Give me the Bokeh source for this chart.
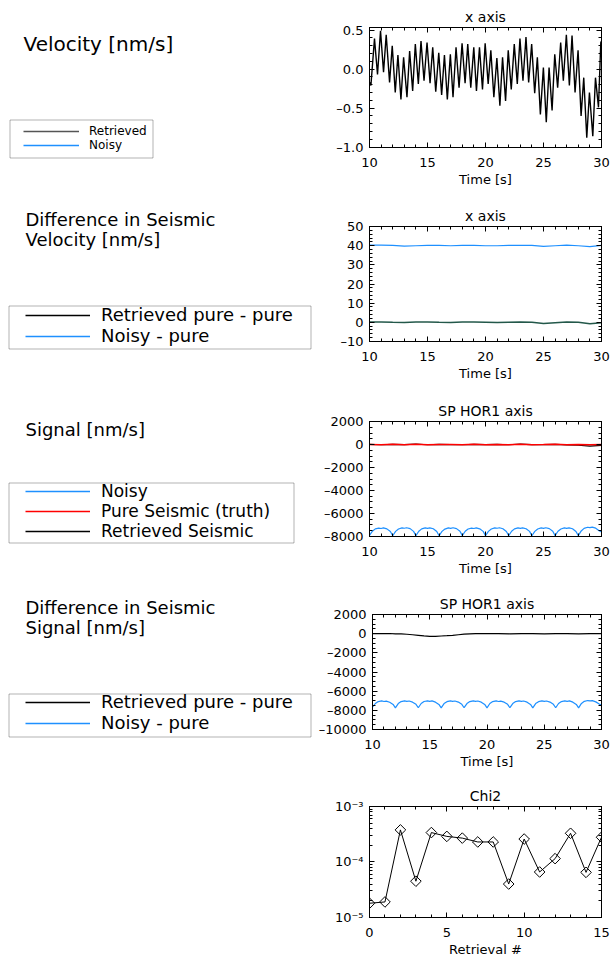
from bokeh.plotting import figure
from bokeh.layouts import row, column
from bokeh.models import (Range1d, SingleIntervalTicker, FixedTicker, LinearAxis, LogAxis,
                          CustomJSTickFormatter, Label, BoxAnnotation, Spacer)
from bokeh.embed import file_html
from bokeh.resources import INLINE

FONT = "DejaVu Sans"
BLUE = "#1E90FF"
NAN = float("nan")

# ---------------- data ----------------
vel_t = [10.00, 10.12, 10.43, 10.69, 10.95, 11.21, 11.44, 11.73, 11.96, 12.22,
         12.45, 12.71, 12.94, 13.23, 13.46, 13.72, 13.95, 14.21, 14.44, 14.70,
         14.96, 15.22, 15.45, 15.71, 15.97, 16.22, 16.46, 16.71, 16.97, 17.20,
         17.46, 17.72, 17.98, 18.24, 18.47, 18.73, 18.99, 19.22, 19.48, 19.74,
         19.97, 20.23, 20.46, 20.72, 20.98, 21.24, 21.47, 21.73, 21.96, 22.22,
         22.48, 22.74, 22.97, 23.23, 23.49, 23.72, 23.98, 24.24, 24.47, 24.73,
         24.99, 25.24, 25.48, 25.74, 25.97, 26.22, 26.48, 26.71, 26.97, 27.23,
         27.46, 27.72, 27.98, 28.24, 28.47, 28.73, 28.96, 29.25, 29.48, 29.74,
         29.94, 30.00]
vel_retrieved = [-0.17, -0.21, 0.39, -0.07, 0.49, -0.04, 0.44, -0.17, 0.30, -0.30,
                 0.18, -0.39, 0.15, -0.36, 0.23, -0.28, 0.32, -0.19, 0.36, -0.15,
                 0.34, -0.18, 0.28, -0.29, 0.21, -0.33, 0.18, -0.39, 0.19, -0.36,
                 0.28, -0.24, 0.33, -0.18, 0.32, -0.24, 0.28, -0.28, 0.28, -0.26,
                 0.33, -0.19, 0.24, -0.36, 0.14, -0.47, 0.15, -0.41, 0.24, -0.26,
                 0.32, -0.19, 0.39, -0.15, 0.41, -0.17, 0.32, -0.31, 0.15, -0.58,
                 0.02, -0.68, 0.02, -0.53, 0.19, -0.24, 0.34, -0.15, 0.44, -0.21,
                 0.43, -0.30, 0.24, -0.60, -0.11, -0.88, -0.30, -0.86, -0.11, -0.49,
                 0.34, 0.36]

diff_t = [10, 11, 12, 13, 14, 15, 16, 17, 18, 19, 20, 21, 22, 23, 24, 25, 26, 27, 28, 29, 30]
# the noisy velocity lies far above the plotted range (about +40 nm/s), so it stays hidden
vel_noisy = [40.3, 40.3, 40.2, 39.8, 40.0, 40.2, 40.2, 40.0, 40.2, 40.2, 40.0,
             40.0, 40.2, 40.2, 40.2, 39.7, 40.0, 40.3, 40.0, 39.5, 40.2]
diffvel_noisy = [40.3, 40.3, 40.2, 39.8, 40.0, 40.2, 40.2, 40.0, 40.2, 40.2, 40.0,
                 40.0, 40.2, 40.2, 40.2, 39.7, 40.0, 40.3, 40.0, 39.5, 40.2]
diffvel_retrieved = [0.2, 0.2, 0.0, -0.1, 0.1, 0.2, 0.0, -0.1, 0.1, 0.1, 0.0,
                     -0.1, 0.0, 0.1, 0.0, -0.7, -0.3, 0.1, 0.0, -0.8, -0.2]

sig_t = [10.0, 10.25, 10.5, 10.8, 11.0, 11.2, 11.5, 11.8,
         12.0, 12.25, 12.5, 12.8, 13.0, 13.2, 13.5, 13.8,
         14.0, 14.25, 14.5, 14.8, 15.0, 15.2, 15.5, 15.8,
         16.0, 16.25, 16.5, 16.8, 17.0, 17.2, 17.5, 17.8,
         18.0, 18.25, 18.5, 18.8, 19.0, 19.2, 19.5, 19.8,
         20.0, 20.25, 20.5, 20.8, 21.0, 21.2, 21.5, 21.8,
         22.0, 22.25, 22.5, 22.8, 23.0, 23.2, 23.5, 23.8,
         24.0, 24.25, 24.5, 24.8, 25.0, 25.2, 25.5, 25.8,
         26.0, 26.25, 26.5, 26.8, 27.0, 27.2, 27.5, 27.8,
         28.0, 28.25, 28.5, 28.8, 29.0, 29.2, 29.5, 29.8,
         30.0]
sig_noisy = [-7900, -7540, -7340, -7270, -7310, -7260, -7340, -7570,
             -7940, -7560, -7350, -7250, -7290, -7240, -7320, -7560,
             -7930, -7550, -7340, -7260, -7300, -7250, -7330, -7570,
             -7940, -7560, -7360, -7260, -7300, -7240, -7320, -7550,
             -7930, -7550, -7350, -7270, -7310, -7260, -7340, -7560,
             -7940, -7560, -7350, -7250, -7290, -7240, -7330, -7570,
             -7930, -7550, -7340, -7260, -7300, -7250, -7330, -7560,
             -7940, -7560, -7350, -7260, -7300, -7240, -7320, -7550,
             -7930, -7550, -7350, -7260, -7300, -7250, -7330, -7570,
             -7930, -7520, -7300, -7200, -7230, -7190, -7280, -7500,
             -7620]
sig_pure = [10, -20, 20, -10, 30, -20, 10, 0, -20, 20, -10,
            10, -20, 30, -10, 0, 20, -20, 10, -10, 0]
sig_retrieved = [10, -20, 20, -10, 30, -20, 10, 0, -20, 20, -10,
                 10, -20, 30, -10, 0, 20, -30, -60, -130, -80]

diffsig_noisy = [-7680, -7290, -7090, -7020, -7080, -7040, -7160, -7390,
                 -7740, -7300, -7090, -7010, -7070, -7030, -7150, -7380,
                 -7730, -7290, -7080, -7010, -7060, -7020, -7150, -7390,
                 -7740, -7300, -7100, -7020, -7070, -7030, -7140, -7380,
                 -7730, -7300, -7090, -7010, -7070, -7030, -7150, -7390,
                 -7740, -7290, -7090, -7020, -7080, -7040, -7150, -7380,
                 -7730, -7300, -7090, -7010, -7070, -7030, -7150, -7390,
                 -7740, -7300, -7100, -7020, -7070, -7030, -7140, -7380,
                 -7730, -7290, -7090, -7010, -7060, -7020, -7150, -7390,
                 -7740, -7280, -7060, -6980, -7020, -6990, -7120, -7350,
                 -7450]
diffsig_t2 = [10.0, 10.5, 11.0, 11.5, 12.0, 12.5, 13.0, 13.5, 14.0, 14.5, 15.0,
              15.5, 16.0, 16.5, 17.0, 17.5, 18.0, 18.5, 19.0, 19.5, 20.0,
              21.0, 22.0, 23.0, 24.0, 25.0, 26.0, 27.0, 28.0, 29.0, 30.0]
diffsig_retrieved = [0, 20, 0, 20, -10, -20, -60, -110, -170, -230, -280,
                     -270, -240, -210, -170, -110, -50, -10, 10, 20, 10,
                     10, -10, 10, 0, -10, 10, 0, -10, 10, 0]

chi_x = [0, 1, 2, 3, 4, 5, 6, 7, 8, 9, 10, 11, 12, 13, 14, 15]
chi_v = [1.8e-5, 1.9e-5, 3.8e-4, 4.5e-5, 3.4e-4, 2.9e-4, 2.7e-4, 2.3e-4,
         2.3e-4, 4.0e-5, 2.6e-4, 6.6e-5, 1.15e-4, 3.3e-4, 6.5e-5, 2.8e-4]

# ---------------- layout constants ----------------
WL, WR = 315, 297           # left (legend) figure, right (plot) figure
BL, BR = 54, 11             # right figure side borders -> frame 232 px
FH = 120                    # frame height
ROW_H = [202, 195, 193, 192, 177]
ROW_BT = [27, 19, 19, 19, 19]

FMT1 = CustomJSTickFormatter(code=r"return (tick < -1e-9 ? '\u2013' : '') + Math.abs(tick).toFixed(1);")
FMT0 = CustomJSTickFormatter(code=r"return (tick < -1e-9 ? '\u2013' : '') + Math.abs(tick).toFixed(0);")
FMTLOG = CustomJSTickFormatter(code=r"""
const e = Math.round(Math.log10(tick));
const sup = {'-':'\u207b','0':'\u2070','1':'\u00b9','2':'\u00b2','3':'\u00b3','4':'\u2074','5':'\u2075','6':'\u2076'};
return '10' + String(e).split('').map(c => sup[c]).join('');
""")


def style_axis(ax, show_labels=True, standoff=6):
    ax.axis_line_color = "black"
    ax.major_tick_line_color = "black"
    ax.minor_tick_line_color = "black"
    ax.major_tick_in = 5
    ax.major_tick_out = 0
    ax.minor_tick_in = 3
    ax.minor_tick_out = 0
    ax.major_label_text_font = FONT
    ax.axis_label_text_font = FONT
    ax.axis_label_text_font_style = "normal"
    ax.axis_label_text_font_size = "13px"
    ax.axis_label_text_color = "black"
    if show_labels:
        ax.major_label_text_color = "black"
        ax.major_label_text_font_size = "13px"
        ax.major_label_standoff = standoff
    else:
        ax.major_label_text_color = None
        ax.major_label_text_font_size = "1px"
        ax.major_label_standoff = 0


def make_panel(i, title, xr, yr, xtick, ytick, yfmt, xlabel, log=False):
    h, bt = ROW_H[i], ROW_BT[i]
    p = figure(width=WR, height=h, x_range=Range1d(*xr), y_range=Range1d(*yr),
               y_axis_type="log" if log else "linear",
               output_backend="svg", toolbar_location=None,
               min_border_left=BL, min_border_right=BR, min_border_top=bt,
               min_border_bottom=h - bt - FH, frame_align=False)
    p.grid.visible = False
    p.outline_line_color = "black"
    p.title.text = title
    p.title.align = "center"
    p.title.text_font = FONT
    p.title.text_font_style = "normal"
    p.title.text_font_size = "14px"
    p.title.text_color = "black"
    p.title.standoff = 6
    xa = p.xaxis[0]
    ya = p.yaxis[0]
    xa.ticker = xtick
    ya.ticker = ytick
    xa.formatter = FMT0
    ya.formatter = yfmt
    style_axis(xa, standoff=10)
    style_axis(ya, standoff=6)
    xa.axis_label = xlabel
    xa.axis_label_standoff = 2
    top = LinearAxis(ticker=xtick)
    style_axis(top, show_labels=False)
    p.add_layout(top, "above")
    right = LogAxis(ticker=ytick) if log else LinearAxis(ticker=ytick)
    style_axis(right, show_labels=False)
    p.add_layout(right, "right")
    return p


def make_side(i, headings, head_size, entries, font_size, lab_h, glyph_w,
              standoff, leg_x, leg_bottom, box):
    """Left-hand caption panel; coordinates are pixels from the row's top-left corner."""
    h = ROW_H[i]
    s = figure(width=WL, height=h, x_range=Range1d(0, WL), y_range=Range1d(0, h),
               output_backend="svg", toolbar_location=None, min_border=0,
               x_axis_location=None, y_axis_location=None, outline_line_color=None,
               frame_align=False)
    s.grid.visible = False
    for (hx, hy, txt) in headings:
        s.add_layout(Label(x=hx, y=h - hy, text=txt, text_font=FONT, text_font_size=head_size,
                           text_baseline="middle", text_color="black"))
    # legend keys: renderers holding a single NaN sample (nothing is drawn in the panel itself)
    for (name, color) in entries:
        s.line(x=[NAN], y=[NAN], line_color=color, line_width=1.3, legend_label=name)
    leg = s.legend[0]
    leg.location = (leg_x, h - leg_bottom)
    leg.padding = 0
    leg.margin = 0
    leg.spacing = 0
    leg.border_line_color = None
    leg.background_fill_alpha = 0
    leg.glyph_width = glyph_w
    leg.glyph_height = lab_h
    leg.label_height = lab_h
    leg.label_standoff = standoff
    leg.label_text_font = FONT
    leg.label_text_font_size = font_size
    leg.label_text_color = "black"
    bl, br, bt, bb = box
    s.add_layout(BoxAnnotation(left=bl + 0.5, right=br + 0.5, top=h - bt - 0.5,
                               bottom=h - bb - 0.5, fill_alpha=0,
                               line_color="black", line_width=1))
    return s


def xticker(interval):
    return SingleIntervalTicker(interval=interval, num_minor_ticks=5)


# ---------- row 1 ----------
p1 = make_panel(0, "x axis", (10, 30), (-1.005, 0.533), xticker(5),
                SingleIntervalTicker(interval=0.5, num_minor_ticks=5), FMT1, "Time [s]")
p1.line(vel_t, vel_retrieved, color="black", line_width=1.4)
p1.line(diff_t, vel_noisy, color=BLUE, line_width=1.2)
s1 = make_side(0, [(23, 43, "Velocity [nm/s]")], "20px",
               [("Retrieved", "#555555"), ("Noisy", BLUE)], "12px", 14, 56, 10,
               23, 152, (9, 152, 119, 157))

# ---------- row 2 ----------
p2 = make_panel(1, "x axis", (10, 30), (-10.05, 50.05), xticker(5),
                SingleIntervalTicker(interval=10, num_minor_ticks=5), FMT0, "Time [s]")
p2.line(diff_t, diffvel_noisy, color=BLUE, line_width=1.2)
p2.line(diff_t, diffvel_retrieved, color="#23584a", line_width=1.5)
s2 = make_side(1, [(25, 17, "Difference in Seismic"), (25, 37, "Velocity [nm/s]")], "18px",
               [("Retrieved pure - pure", "black"), ("Noisy - pure", BLUE)], "18px", 18, 65, 11,
               25, 144, (8, 310, 103, 146))

# ---------- row 3 ----------
p3 = make_panel(2, "SP HOR1 axis", (10, 30), (-8005, 2005), xticker(5),
                SingleIntervalTicker(interval=2000, num_minor_ticks=4), FMT0, "Time [s]")
p3.line(sig_t, sig_noisy, color=BLUE, line_width=1.2)
p3.line(diff_t, sig_retrieved, color="black", line_width=1.2)
p3.line(diff_t, sig_pure, color="red", line_width=1.5)
s3 = make_side(2, [(25, 32, "Signal [nm/s]")], "18px",
               [("Noisy", BLUE), ("Pure Seismic (truth)", "red"), ("Retrieved Seismic", "black")],
               "17px", 18, 65, 11, 25, 144, (8, 293, 85, 145))

# ---------- row 4 ----------
p4 = make_panel(3, "SP HOR1 axis", (10, 30), (-10005, 2005), xticker(5),
                SingleIntervalTicker(interval=2000, num_minor_ticks=4), FMT0, "Time [s]")
p4.line(sig_t, diffsig_noisy, color=BLUE, line_width=1.2)
p4.line(diffsig_t2, diffsig_retrieved, color="black", line_width=1.2)
s4 = make_side(3, [(25, 17, "Difference in Seismic"), (25, 37, "Signal [nm/s]")], "18px",
               [("Retrieved pure - pure", "black"), ("Noisy - pure", BLUE)], "18px", 18, 65, 11,
               25, 143, (8, 310, 103, 146))

# ---------- row 5 ----------
log_major = [1e-5, 1e-4, 1e-3]
log_minor = [k * 10.0 ** e for e in (-5, -4) for k in range(2, 10)]
p5 = make_panel(4, "Chi2", (0, 15), (0.995e-5, 1.005e-3), xticker(5),
                FixedTicker(ticks=log_major, minor_ticks=log_minor), FMTLOG, "Retrieval #", log=True)
p5.line(chi_x, chi_v, color="black", line_width=1)
p5.scatter(chi_x, chi_v, marker="square", angle=0.785398, size=7.5, fill_alpha=0,
           line_color="black", line_width=1)
s5 = Spacer(width=WL, height=ROW_H[4])

layout = column(row(s1, p1), row(s2, p2), row(s3, p3), row(s4, p4), row(s5, p5))
open("out.html", "w").write(file_html(layout, INLINE))
